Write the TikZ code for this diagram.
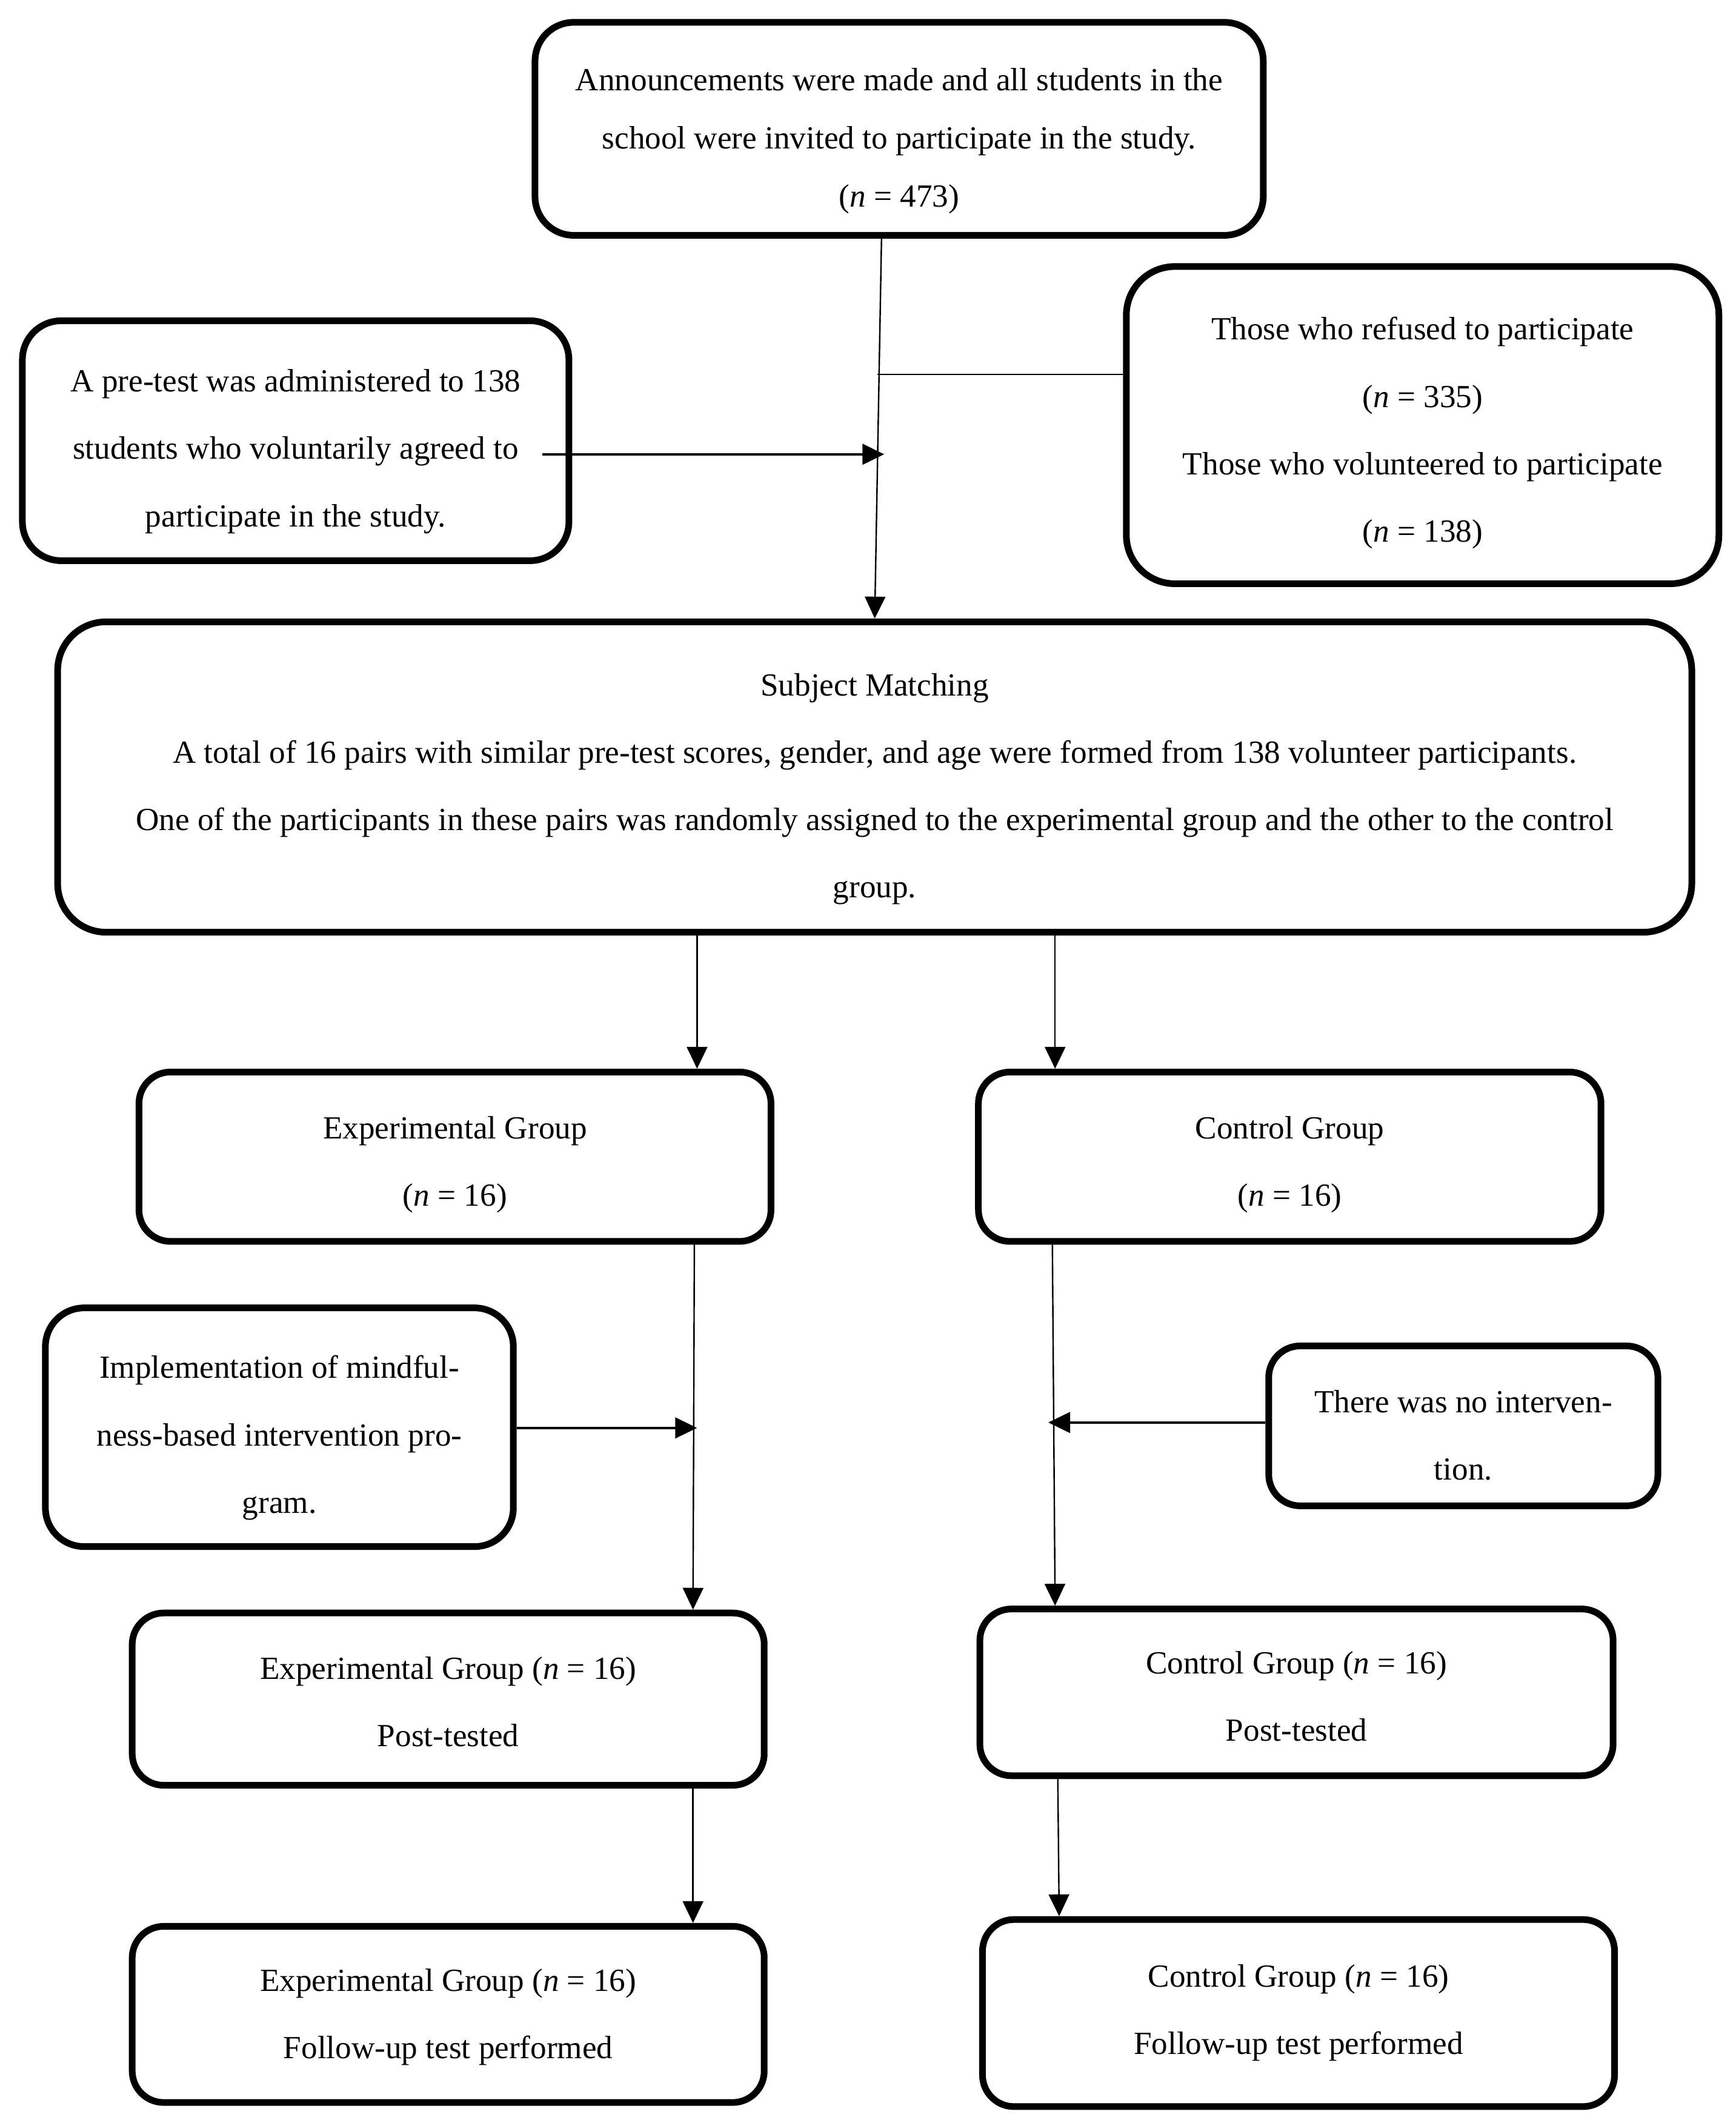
\documentclass[tikz,border=0pt]{standalone}
\usepackage{fontspec}
\setmainfont{Liberation Serif}
\usetikzlibrary{arrows.meta}
\begin{document}
\begin{tikzpicture}[x=0.5596pt,y=-0.5596pt,
  box/.style={draw, line width=2.75pt, rounded corners=16pt, align=center, inner sep=0pt,
    font=\fontsize{13.3}{27.8}\selectfont},
  down/.style={text height=#1},
  conn/.style={line width=0.6pt},
  arr/.style={conn, -{Triangle[length=9pt,width=8.5pt]}},
  harr/.style={line width=1pt, -{Triangle[length=9pt,width=8.5pt]}}]
\useasboundingbox (0,0) rectangle (1280,1565.6);
\fill[white] (0,0) rectangle (1280,1565.6);

\node[box, minimum width=300.5pt, minimum height=87.9pt, font=\fontsize{13.3}{24}\selectfont, down=67.2pt] (top) at (663,95)
  {Announcements were made and all students in the\\ school were invited to participate in the study.\\ (\textit{n} = 473)};
\node[box, minimum width=225.5pt, minimum height=99pt, down=73.7pt] (pre) at (218,325)
  {A pre-test was administered to 138\\ students who voluntarily agreed to\\ participate in the study.};
\node[box, minimum width=244.5pt, minimum height=130.9pt, rounded corners=20pt, down=99.2pt] (ref) at (1049,313.5)
  {Those who refused to participate\\ (\textit{n} = 335)\\ Those who volunteered to participate\\ (\textit{n} = 138)};
\node[box, minimum width=674.3pt, minimum height=128.1pt, rounded corners=20pt, down=102.6pt] (sub) at (645,573)
  {Subject Matching\\ A total of 16 pairs with similar pre-test scores, gender, and age were formed from 138 volunteer participants.\\ One of the participants in these pairs was randomly assigned to the experimental group and the other to the control\\ group.};
\node[box, minimum width=260.8pt, minimum height=69.9pt, rounded corners=13pt, down=43.6pt] (eg) at (335.5,853)
  {Experimental Group\\ (\textit{n} = 16)};
\node[box, minimum width=256.9pt, minimum height=69.9pt, rounded corners=13pt, down=43.6pt] (cg) at (951,853)
  {Control Group\\ (\textit{n} = 16)};
\node[box, minimum width=193.1pt, minimum height=98.5pt, down=73.7pt] (imp) at (206,1052.5)
  {Implementation of mindful-\\ ness-based intervention pro-\\ gram.};
\node[box, minimum width=160.6pt, minimum height=66pt, rounded corners=13pt, down=44.7pt] (noi) at (1079,1051.5)
  {There was no interven-\\ tion.};
\node[box, minimum width=260.8pt, minimum height=71.1pt, rounded corners=13pt, down=39.1pt] (ep) at (330.5,1253)
  {Experimental Group (\textit{n} = 16)\\ Post-tested};
\node[box, minimum width=261.3pt, minimum height=68.8pt, rounded corners=13pt, down=40.3pt] (cp) at (956,1248)
  {Control Group (\textit{n} = 16)\\ Post-tested};
\node[box, minimum width=260.8pt, minimum height=72.7pt, rounded corners=13pt, down=39.1pt] (ef) at (330.5,1485.5)
  {Experimental Group (\textit{n} = 16)\\ Follow-up test performed};
\node[box, minimum width=260.8pt, minimum height=77.2pt, rounded corners=13pt, down=36.9pt] (cf) at (957.5,1484.5)
  {Control Group (\textit{n} = 16)\\ Follow-up test performed};

% named connector points
\coordinate (a1) at (650,0);
\coordinate (a2) at (645,0);
\coordinate (j1) at (647,276);
\coordinate (j2) at (652,335);
\coordinate (p1) at (400,335);
\coordinate (s1) at (514,0);
\coordinate (s2) at (778,0);
\coordinate (e1) at (512,0);
\coordinate (e2) at (511,0);
\coordinate (c1) at (776,0);
\coordinate (c2) at (778,0);
\coordinate (i1) at (514,1053);
\coordinate (n1) at (773,1049);
\coordinate (f1) at (511,0);
\coordinate (g1) at (780,0);
\coordinate (g2) at (781,0);

\draw[arr] (top.south -| a1) -- (sub.north -| a2);
\draw[conn] (j1) -- (ref.west |- j1);
\draw[harr] (p1) -- (j2);
\draw[arr] (sub.south -| s1) -- (eg.north -| s1);
\draw[arr] (sub.south -| s2) -- (cg.north -| s2);
\draw[arr] (eg.south -| e1) -- (ep.north -| e2);
\draw[harr] (imp.east |- i1) -- (i1);
\draw[arr] (cg.south -| c1) -- (cp.north -| c2);
\draw[harr] (noi.west |- n1) -- (n1);
\draw[arr] (ep.south -| f1) -- (ef.north -| f1);
\draw[arr] (cp.south -| g1) -- (cf.north -| g2);
\end{tikzpicture}
\end{document}
